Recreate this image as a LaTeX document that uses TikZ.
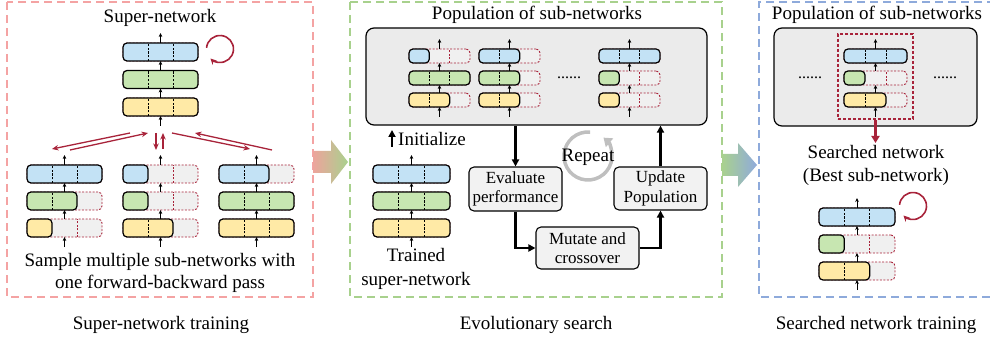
\documentclass[tikz,border=0pt]{standalone}
\usepackage{fontspec}
\setmainfont{Liberation Serif}
\usetikzlibrary{arrows.meta,calc}

\definecolor{cblue}{HTML}{C3E2F5}
\definecolor{cgreen}{HTML}{C7E6B1}
\definecolor{cyellow}{HTML}{FFEAA6}
\definecolor{cgray}{HTML}{F0F0F0}
\definecolor{dkred}{HTML}{A8233A}
\definecolor{pinkd}{HTML}{F4A3A3}
\definecolor{greend}{HTML}{A8D18D}
\definecolor{blued}{HTML}{8EAADB}
\definecolor{apink}{HTML}{EDA49C}
\definecolor{agreen}{HTML}{A9D18E}
\definecolor{ablue}{HTML}{8FAADC}
\definecolor{popgray}{HTML}{EBEBEB}
\definecolor{boxgray}{HTML}{F2F2F2}
\definecolor{repgray}{HTML}{BFBFBF}

\tikzset{
  inact/.style={draw=dkred, fill=cgray, line width=0.9pt, dash pattern=on 2pt off 1.5pt, rounded corners=4pt, inner sep=0pt, outer sep=0pt},
  act/.style={draw=black, line width=1.2pt, rounded corners=4pt},
  actdiv/.style={black, line width=0.8pt, dash pattern=on 2.2pt off 1.5pt},
  inactdiv/.style={dkred, line width=0.8pt, dash pattern=on 2pt off 1.5pt},
  sarrow/.style={-{Stealth[length=4pt,width=3.6pt]}, line width=0.8pt},
  flow/.style={-{Triangle[length=7pt,width=7pt]}, line width=2.2pt},
  rarrow/.style={-{Stealth[length=6.5pt,width=5.5pt]}, dkred, line width=1.3pt},
  loopar/.style={dkred, line width=1.6pt, -{Stealth[length=6pt,width=6pt]}},
  panel/.style={dash pattern=on 8pt off 5pt, line width=1.3pt},
  lbl/.style={font=\fontsize{19}{22}\selectfont, align=center, inner sep=0pt},
  proc/.style={draw, fill=boxgray, line width=1.1pt, rounded corners=5pt, align=center, font=\fontsize{17}{19.5}\selectfont, inner sep=0pt},
}

% #1 name, #2 cx, #3 cy, #4 width, #5 height, #6 fill, #7 active segments
\newcommand{\layer}[7]{%
  \node[inact, minimum width=#4pt, minimum height=#5pt] (#1) at (#2,#3) {};
  \pgfmathsetmacro{\segw}{#4/3}%
  \pgfmathsetmacro{\actw}{#7*#4/3}%
  \draw[act, fill=#6] (#1.south west) rectangle ([xshift=\actw pt]#1.north west);
  \foreach \i in {1,2}{%
    \pgfmathsetmacro{\dsh}{\i*\segw}%
    \ifnum\i<#7
      \draw[actdiv] ([xshift=\dsh pt]#1.south west) -- ([xshift=\dsh pt]#1.north west);
    \else\ifnum\i>#7
      \draw[inactdiv] ([xshift=\dsh pt]#1.south west) -- ([xshift=\dsh pt]#1.north west);
    \fi\fi
  }%
}

% #1 prefix, #2 cx, #3 top y, #4 width, #5 height, #6 gap, #7 #8 #9 active segments
\newcommand{\netstack}[9]{%
  \pgfmathsetmacro{\yb}{#3+#5/2}%
  \pgfmathsetmacro{\yg}{\yb+#5+#6}%
  \pgfmathsetmacro{\yy}{\yg+#5+#6}%
  \layer{#1b}{#2}{\yb}{#4}{#5}{cblue}{#7}
  \layer{#1g}{#2}{\yg}{#4}{#5}{cgreen}{#8}
  \layer{#1y}{#2}{\yy}{#4}{#5}{cyellow}{#9}
  \coordinate (#1top) at ([yshift=10pt]#1b.north);
  \coordinate (#1bot) at ([yshift=-10pt]#1y.south);
  \draw[sarrow] (#1b.north) -- (#1top);
  \draw[sarrow] (#1g.north) -- (#1b.south);
  \draw[sarrow] (#1y.north) -- (#1g.south);
  \draw[sarrow] (#1bot) -- (#1y.south);
}

\begin{document}
\begin{tikzpicture}[x=1pt,y=-1pt]
\useasboundingbox (0,0) rectangle (990,339);

% ---------- panels ----------
\draw[panel, pinkd] (7,2) rectangle (313,297);
\draw[panel, greend] (350,2) rectangle (722,297);
\draw[panel, blued] (995,2) -| (759,297) -- (995,297);

% ---------- transition arrows ----------
\shade[left color=apink, right color=agreen] (313,151) -- (331,151) -- (331,140) -- (348,162) -- (331,184) -- (331,173) -- (313,173) -- cycle;
\shade[left color=agreen, right color=ablue] (722,154) -- (738,154) -- (738,143) -- (757,165) -- (738,187) -- (738,176) -- (722,176) -- cycle;

% ---------- left panel ----------
\node[lbl] (t1) at (160,18) {Super-network};
\netstack{S}{160.5}{43}{75}{18}{9.5}{3}{3}{3}
\coordinate (loop1) at (220,49);
\draw[loopar] ($(loop1)+(175:13.5pt)$) arc[start angle=175, end angle=-135, radius=13.5pt];

\netstack{L}{64.5}{165}{75}{18}{9}{3}{2}{1}
\netstack{M}{160.5}{165}{75}{18}{9}{1}{1}{2}
\netstack{N}{256.5}{165}{75}{18}{9}{2}{3}{3}

\coordinate (ra1) at (130,133); \coordinate (ra2) at (52,149);
\coordinate (rb1) at (70,150);  \coordinate (rb2) at (148,133);
\coordinate (rc1) at (156,133); \coordinate (rc2) at (156,150);
\coordinate (rd1) at (163,149); \coordinate (rd2) at (163,133);
\coordinate (re1) at (172,133); \coordinate (re2) at (250,149);
\coordinate (rf1) at (272,150); \coordinate (rf2) at (195,133);
\draw[rarrow] (ra1) -- (ra2);
\draw[rarrow] (rb1) -- (rb2);
\draw[rarrow] (rc1) -- (rc2);
\draw[rarrow] (rd1) -- (rd2);
\draw[rarrow] (re1) -- (re2);
\draw[rarrow] (rf1) -- (rf2);

\node[lbl] (samp) at (160,272.5) {Sample multiple sub-networks with\\one forward-backward pass};

% ---------- middle panel ----------
\node[lbl] (t2) at (537,15) {Population of sub-networks};
\node[draw, fill=popgray, line width=1.2pt, rounded corners=8pt, minimum width=341pt, minimum height=97pt, inner sep=0pt] (pop) at (536.5,76.5) {};
\netstack{PA}{439.5}{49}{61}{14}{8}{1}{3}{2}
\netstack{PB}{509.5}{49}{61}{14}{8}{2}{2}{2}
\netstack{PC}{629.5}{49}{61}{14}{8}{3}{1}{1}
\node[font=\fontsize{16}{16}\selectfont, inner sep=0pt] (dots1) at (569,78) {......};

\coordinate (initS) at (392,147);
\coordinate (initE) at (392,130);
\draw[flow] (initS) -- (initE);
\node[lbl, anchor=west] (initl) at (398,139) {Initialize};

\netstack{T}{411.5}{165}{77}{18}{9}{3}{3}{3}
\node[lbl, font=\fontsize{19}{24}\selectfont] (tl) at (416,269) {Trained\\super-network};

\node[proc, minimum width=93pt, minimum height=44pt] (eval) at (515.5,189) {Evaluate\\performance};
\node[proc, minimum width=93pt, minimum height=43pt] (upd) at (660.5,188.5) {Update\\Population};
\node[proc, minimum width=103pt, minimum height=42pt] (mut) at (587.5,248) {Mutate and\\crossover};

\draw[flow] (pop.south -| eval.north) -- (eval.north);
\draw[flow] (eval.south) |- (mut.west);
\draw[flow] (mut.east) -| (upd.south);
\draw[flow] (upd.north) -- (upd.north |- pop.south);

\coordinate (rep) at (588,156);
\draw[repgray, line width=3.5pt, -{Triangle[length=8pt,width=11pt]}] ($(rep)+(85:24pt)$) arc[start angle=85, end angle=410, radius=24pt];
\node[lbl] (repl) at (588,157) {Repeat};

% ---------- right panel ----------
\node[lbl] (t3) at (877,15) {Population of sub-networks};
\node[draw, fill=popgray, line width=1.2pt, rounded corners=8pt, minimum width=203pt, minimum height=98pt, inner sep=0pt] (pop2) at (875.5,77) {};
\node[draw=dkred, dash pattern=on 3pt off 2pt, line width=1.2pt, minimum width=75pt, minimum height=85pt, inner sep=0pt] (sel) at (875.5,76.5) {};
\netstack{R}{875.5}{49}{63}{14}{8}{3}{1}{2}
\node[font=\fontsize{16}{16}\selectfont, inner sep=0pt] (dots2) at (810,78) {......};
\node[font=\fontsize{16}{16}\selectfont, inner sep=0pt] (dots3) at (945,78) {......};
\coordinate (selend) at (875.5,143);
\draw[dkred, line width=2.5pt, -{Triangle[length=7pt,width=8pt]}] (sel.south) -- (selend);

\node[lbl, font=\fontsize{19}{23}\selectfont] (srch) at (876,165.5) {Searched network\\(Best sub-network)};
\netstack{Q}{857}{208}{76}{18}{9}{3}{1}{2}
\coordinate (loop2) at (913,206);
\draw[loopar] ($(loop2)+(175:13.5pt)$) arc[start angle=175, end angle=-135, radius=13.5pt];

% ---------- captions ----------
\node[lbl] (c1) at (161,325) {Super-network training};
\node[lbl] (c2) at (536,325) {Evolutionary search};
\node[lbl] (c3) at (876,325) {Searched network training};
\end{tikzpicture}
\end{document}
